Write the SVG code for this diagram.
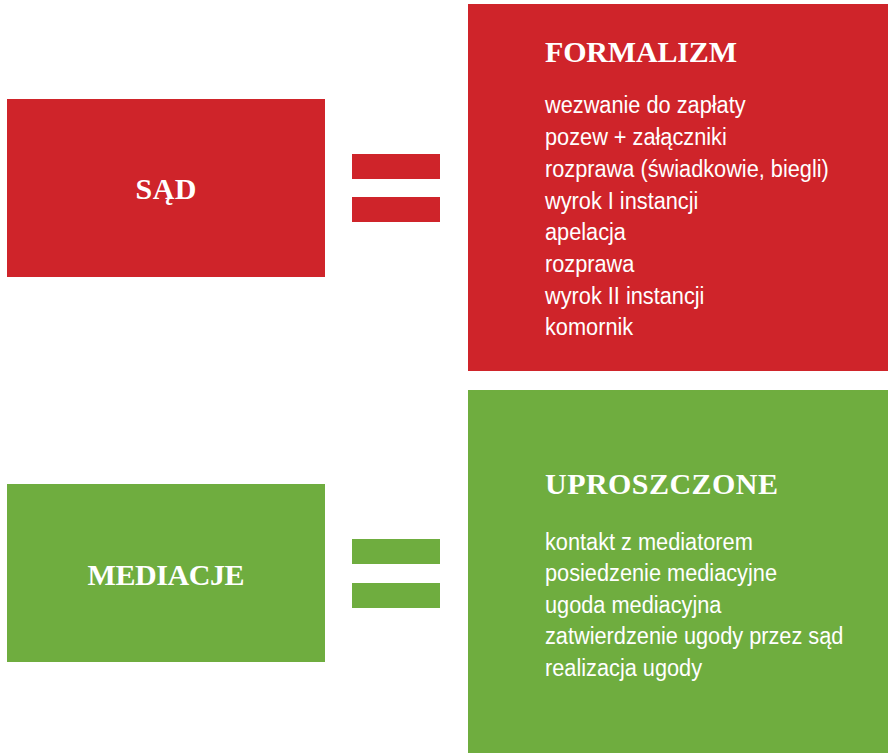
<svg xmlns="http://www.w3.org/2000/svg" width="888" height="753" viewBox="0 0 888 753">
  <style>
    .red { fill: #CF242A; }
    .green { fill: #6FAD3F; }
    .title { font-family: "Liberation Serif", "Times New Roman", serif; font-weight: bold; font-size: 30px; fill: #FFFFFF; }
    .item { font-family: "Liberation Sans", Arial, sans-serif; font-size: 23.5px; fill: #FFFFFF; }
  </style>
  <rect width="888" height="753" fill="#FFFFFF"/>

  <g id="sad">
    <rect class="red" x="7" y="99" width="318" height="178"/>
    <text class="title" x="166" y="199" text-anchor="middle" textLength="61" lengthAdjust="spacing">SĄD</text>
  </g>

  <g id="equals-red">
    <rect class="red" x="352" y="154" width="88" height="25"/>
    <rect class="red" x="352" y="197" width="88" height="25"/>
  </g>

  <g id="formalizm">
    <rect class="red" x="468" y="4" width="420" height="367"/>
    <text class="title" x="545" y="62" textLength="192" lengthAdjust="spacing">FORMALIZM</text>
    <g transform="translate(545,0) scale(0.9255,1)">
      <text class="item" x="0" y="113.5">wezwanie do zapłaty</text>
      <text class="item" x="0" y="145.2">pozew + załączniki</text>
      <text class="item" x="0" y="176.9">rozprawa (świadkowie, biegli)</text>
      <text class="item" x="0" y="208.6">wyrok I instancji</text>
      <text class="item" x="0" y="240.3">apelacja</text>
      <text class="item" x="0" y="272">rozprawa</text>
      <text class="item" x="0" y="303.7">wyrok II instancji</text>
      <text class="item" x="0" y="335.4">komornik</text>
    </g>
  </g>

  <g id="mediacje">
    <rect class="green" x="7" y="484" width="318" height="178"/>
    <text class="title" x="166" y="585" text-anchor="middle" textLength="157" lengthAdjust="spacing">MEDIACJE</text>
  </g>

  <g id="equals-green">
    <rect class="green" x="352" y="539" width="88" height="25"/>
    <rect class="green" x="352" y="583" width="88" height="25"/>
  </g>

  <g id="uproszczone">
    <rect class="green" x="468" y="390" width="420" height="363"/>
    <text class="title" x="545" y="494" textLength="233" lengthAdjust="spacing">UPROSZCZONE</text>
    <g transform="translate(545,0) scale(0.9255,1)">
      <text class="item" x="0" y="550">kontakt z mediatorem</text>
      <text class="item" x="0" y="581.5">posiedzenie mediacyjne</text>
      <text class="item" x="0" y="613">ugoda mediacyjna</text>
      <text class="item" x="0" y="644.5">zatwierdzenie ugody przez sąd</text>
      <text class="item" x="0" y="676">realizacja ugody</text>
    </g>
  </g>
</svg>
